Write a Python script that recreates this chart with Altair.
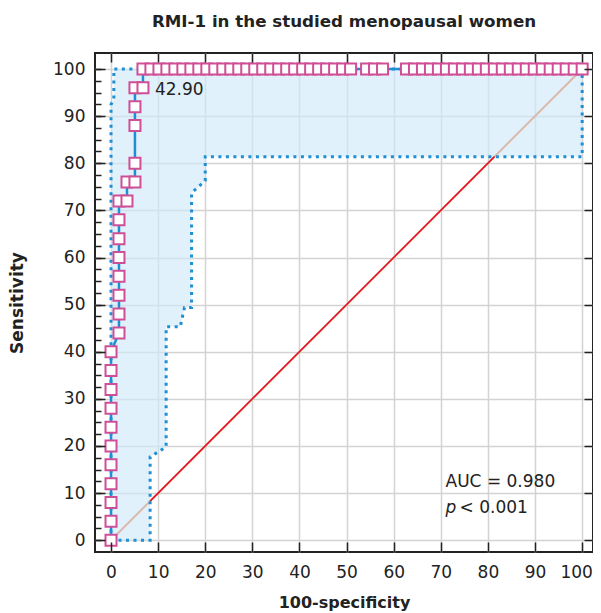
import altair as alt
import pandas as pd

# ---- data ----
roc_fpr = [0, 0, 0, 0, 0, 0, 0, 0, 0, 0, 0,
           1.69, 1.69, 1.69, 1.69, 1.69, 1.69, 1.69, 1.69,
           3.39, 3.39,
           5.08, 5.08, 5.08, 5.08, 5.08,
           6.78, 6.78,
           8.47, 10.17, 11.86, 13.56, 15.25, 16.95, 18.64, 20.34, 22.03, 23.73,
           25.42, 27.12, 28.81, 30.51, 32.20, 33.90, 35.59, 37.29, 38.98, 40.68,
           42.37, 44.07, 45.76, 47.46, 49.15, 50.85,
           54.24, 55.93, 57.63,
           62.71, 64.41, 66.10, 67.80, 69.49, 71.19, 72.88, 74.58, 76.27, 77.97,
           79.66, 81.36, 83.05, 84.75, 86.44, 88.14, 89.83, 91.53, 93.22, 94.92,
           96.61, 98.31, 100]
roc_tpr = [0, 4, 8, 12, 16, 20, 24, 28, 32, 36, 40,
           44, 48, 52, 56, 60, 64, 68, 72,
           72, 76,
           76, 80, 88, 92, 96,
           96, 100,
           100, 100, 100, 100, 100, 100, 100, 100, 100, 100,
           100, 100, 100, 100, 100, 100, 100, 100, 100, 100,
           100, 100, 100, 100, 100, 100,
           100, 100, 100,
           100, 100, 100, 100, 100, 100, 100, 100, 100, 100,
           100, 100, 100, 100, 100, 100, 100, 100, 100, 100,
           100, 100, 100]

band_x = [0, 0, 0.6, 0.6, 8.3, 8.3, 11.7, 11.7, 14.7, 15.6, 17.1, 17.1, 20, 20, 100, 100]
band_upper = [0, 92.5, 93.5, 100, 100, 100, 100, 100, 100, 100, 100, 100, 100, 100, 100, 100]
band_lower = [0, 0, 0, 0, 0, 17.7, 19.8, 45.3, 45.3, 49.4, 49.4, 73.7, 76.3, 81.4, 81.4, 100]

diag_x = [0, 100]
diag_y = [0, 100]
red_x = [8.3, 81.4]
red_y = [8.3, 81.4]

cut_x = [6.78]
cut_y = [96]
cut_text = ["42.90"]

auc_x = [71]
auc_y = [11.2]
auc_text = ["AUC = 0.980"]
p_x = [71]
p_y = [5.8]
p_sym = ["p"]
p_text = ["< 0.001"]

major_ticks = [0, 10, 20, 30, 40, 50, 60, 70, 80, 90, 100]
minor_ticks_y = [0, 2.5, 5, 7.5, 10, 12.5, 15, 17.5, 20, 22.5, 25, 27.5, 30, 32.5, 35,
                 37.5, 40, 42.5, 45, 47.5, 50, 52.5, 55, 57.5, 60, 62.5, 65, 67.5, 70,
                 72.5, 75, 77.5, 80, 82.5, 85, 87.5, 90, 92.5, 95, 97.5, 100]

FONT = "DejaVu Sans"
TXT = "#222222"
BLUE = "#1e8fd5"

roc_df = pd.DataFrame({"x": roc_fpr, "y": roc_tpr, "i": range(len(roc_fpr))})
band_df = pd.DataFrame({"x": band_x, "up": band_upper, "lo": band_lower, "i": range(len(band_x))})
diag_df = pd.DataFrame({"x": diag_x, "y": diag_y})
red_df = pd.DataFrame({"x": red_x, "y": red_y})
cut_df = pd.DataFrame({"x": cut_x, "y": cut_y, "t": cut_text})
auc_df = pd.DataFrame({"x": auc_x, "y": auc_y, "t": auc_text})
psym_df = pd.DataFrame({"x": p_x, "y": p_y, "t": p_sym})
ptxt_df = pd.DataFrame({"x": p_x, "y": p_y, "t": p_text})

xs = alt.Scale(domain=[-3.4, 102.3], nice=False, zero=False)
ys = alt.Scale(domain=[-2.5, 103.4], nice=False, zero=False)

# main axes with labels/titles/grid
x_main = alt.Axis(orient="bottom", values=major_ticks, title="100-specificity", grid=True,
                  gridColor="#d3d3d3", gridWidth=1.5, ticks=False, domain=False,
                  labelFont=FONT, labelFontSize=17, labelColor=TXT, labelPadding=12,
                  labelOffset={"condition": {"test": "datum.value == 100", "value": -6},
                               "value": 0},
                  titleFont=FONT, titleFontSize=16, titleFontWeight="bold", titleColor=TXT,
                  titlePadding=14, labelFlush=False)
y_main = alt.Axis(orient="left", values=major_ticks, title="Sensitivity", grid=True,
                  gridColor="#d3d3d3", gridWidth=1.5, ticks=False, domain=False,
                  labelFont=FONT, labelFontSize=17, labelColor=TXT, labelPadding=10,
                  titleFont=FONT, titleFontSize=17, titleFontWeight="bold", titleColor=TXT,
                  titlePadding=26, labelFlush=False)

def tick_axis(orient, values, size):
    return alt.Axis(orient=orient, values=values, labels=False, title=None, grid=False,
                    domain=False, ticks=True, tickSize=size, offset=-size,
                    tickColor="#222222", tickWidth=1.5, zindex=1)

band = alt.Chart(band_df).mark_area(color="#cfe9f9", opacity=0.65).encode(
    x=alt.X("x:Q", scale=xs, axis=x_main),
    y=alt.Y("up:Q", scale=ys, axis=y_main, stack=None),
    y2="lo:Q",
)

diag = alt.Chart(diag_df).mark_line(color="#dcb8aa", strokeWidth=2).encode(
    x=alt.X("x:Q", scale=xs, axis=tick_axis("bottom", major_ticks, 10)),
    y=alt.Y("y:Q", scale=ys, axis=tick_axis("left", major_ticks, 10)),
)

red = alt.Chart(red_df).mark_line(color="#e8141e", strokeWidth=1.6).encode(
    x=alt.X("x:Q", scale=xs, axis=tick_axis("top", major_ticks, 9)),
    y=alt.Y("y:Q", scale=ys, axis=tick_axis("right", major_ticks, 9)),
)

upper_line = alt.Chart(band_df).mark_line(color=BLUE, strokeWidth=3, strokeDash=[3, 4.5]).encode(
    x=alt.X("x:Q", scale=xs, axis=None),
    y=alt.Y("up:Q", scale=ys, axis=tick_axis("left", minor_ticks_y, 6)),
    order="i:Q",
)

lower_line = alt.Chart(band_df).mark_line(color=BLUE, strokeWidth=3, strokeDash=[3, 4.5]).encode(
    x=alt.X("x:Q", scale=xs, axis=None),
    y=alt.Y("lo:Q", scale=ys, axis=None),
    order="i:Q",
)

roc_line = alt.Chart(roc_df).mark_line(color=BLUE, strokeWidth=2.5).encode(
    x=alt.X("x:Q", scale=xs, axis=None),
    y=alt.Y("y:Q", scale=ys, axis=None),
    order="i:Q",
)

roc_pts = alt.Chart(roc_df).mark_point(shape="square", filled=True, fill="white",
                                       stroke="#cf4f97", strokeWidth=2, size=121,
                                       opacity=1).encode(
    x=alt.X("x:Q", scale=xs, axis=None),
    y=alt.Y("y:Q", scale=ys, axis=None),
)

def text_layer(df, dx=0, dy=0, style="normal", baseline="alphabetic"):
    return alt.Chart(df).mark_text(align="left", baseline=baseline, dx=dx, dy=dy,
                                   font=FONT, fontSize=17, color=TXT,
                                   fontStyle=style).encode(
        x=alt.X("x:Q", scale=xs, axis=None),
        y=alt.Y("y:Q", scale=ys, axis=None),
        text="t:N",
    )

cut_lbl = text_layer(cut_df, dx=12, dy=2, baseline="middle")
auc_lbl = text_layer(auc_df)
psym_lbl = text_layer(psym_df, style="italic")
ptxt_lbl = text_layer(ptxt_df, dx=14)

chart = alt.layer(
    band, diag, red, upper_line, lower_line, roc_line, roc_pts,
    cut_lbl, auc_lbl, psym_lbl, ptxt_lbl
).resolve_axis(
    x="independent", y="independent"
).properties(
    width=498, height=499,
    autosize=alt.AutoSizeParams(type="none"),
    padding={"left": 87, "top": 45, "right": 0, "bottom": 61},
    title=alt.Title("RMI-1 in the studied menopausal women", font=FONT, fontSize=16.7,
                    fontWeight="bold", color=TXT, offset=22, anchor="middle"),
).configure_view(
    stroke="#222222", strokeWidth=2
)

chart.save("out.html", embed_options={"renderer": "svg", "actions": False})
